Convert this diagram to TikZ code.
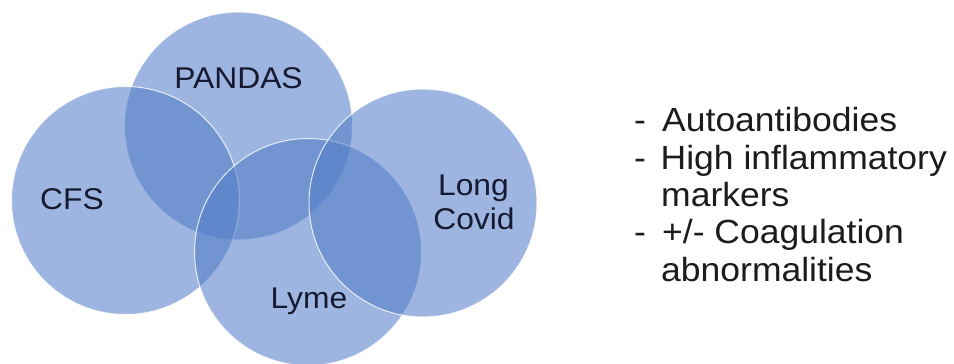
\documentclass[tikz,border=0pt]{standalone}
\usepackage{fontspec}
\setmainfont{Liberation Sans}[FakeStretch=1.06]
\definecolor{vennblue}{RGB}{83,125,201}
\definecolor{labelink}{RGB}{22,26,48}
\definecolor{listink}{RGB}{28,28,28}
\begin{document}
\begin{tikzpicture}[x=1pt,y=-1pt,
  venn/.style={fill=vennblue,fill opacity=0.57,draw=white,draw opacity=0.8,line width=1pt},
  vlabel/.style={anchor=base,inner sep=0pt,text=labelink,font=\fontsize{30}{34}\selectfont},
  listtxt/.style={anchor=base west,inner sep=0pt,text=listink,font=\fontsize{33.5}{37}\selectfont}]
\useasboundingbox[fill=white] (0,0) rectangle (954,364);
% circles
\path[venn] (238.5,126) circle[radius=114];
\path[venn] (125.5,200.5) circle[radius=114];
\path[venn] (308,252) circle[radius=113.5];
\path[venn] (423,203) circle[radius=114];
% labels
\node[vlabel] (pandas) at (238.5,88) {PANDAS};
\node[vlabel] (cfs) at (72,209) {CFS};
\node[vlabel] (lc1) at (473.5,195) {Long};
\node[vlabel] (lc2) at (474,229) {Covid};
\node[vlabel] (lyme) at (309,308) {Lyme};
% list
\node[listtxt] (d1) at (634,131.7) {-};
\node[listtxt] (t1) at (662,131.7) {Autoantibodies};
\node[listtxt] (d2) at (634,169) {-};
\node[listtxt] (t2) at (660.5,169) {High inflammatory};
\node[listtxt] (t3) at (661,206.3) {markers};
\node[listtxt] (d4) at (634,243.6) {-};
\node[listtxt] (t4) at (662,243.6) {+/- Coagulation};
\node[listtxt] (t5) at (661,281) {abnormalities};
\end{tikzpicture}
\end{document}
